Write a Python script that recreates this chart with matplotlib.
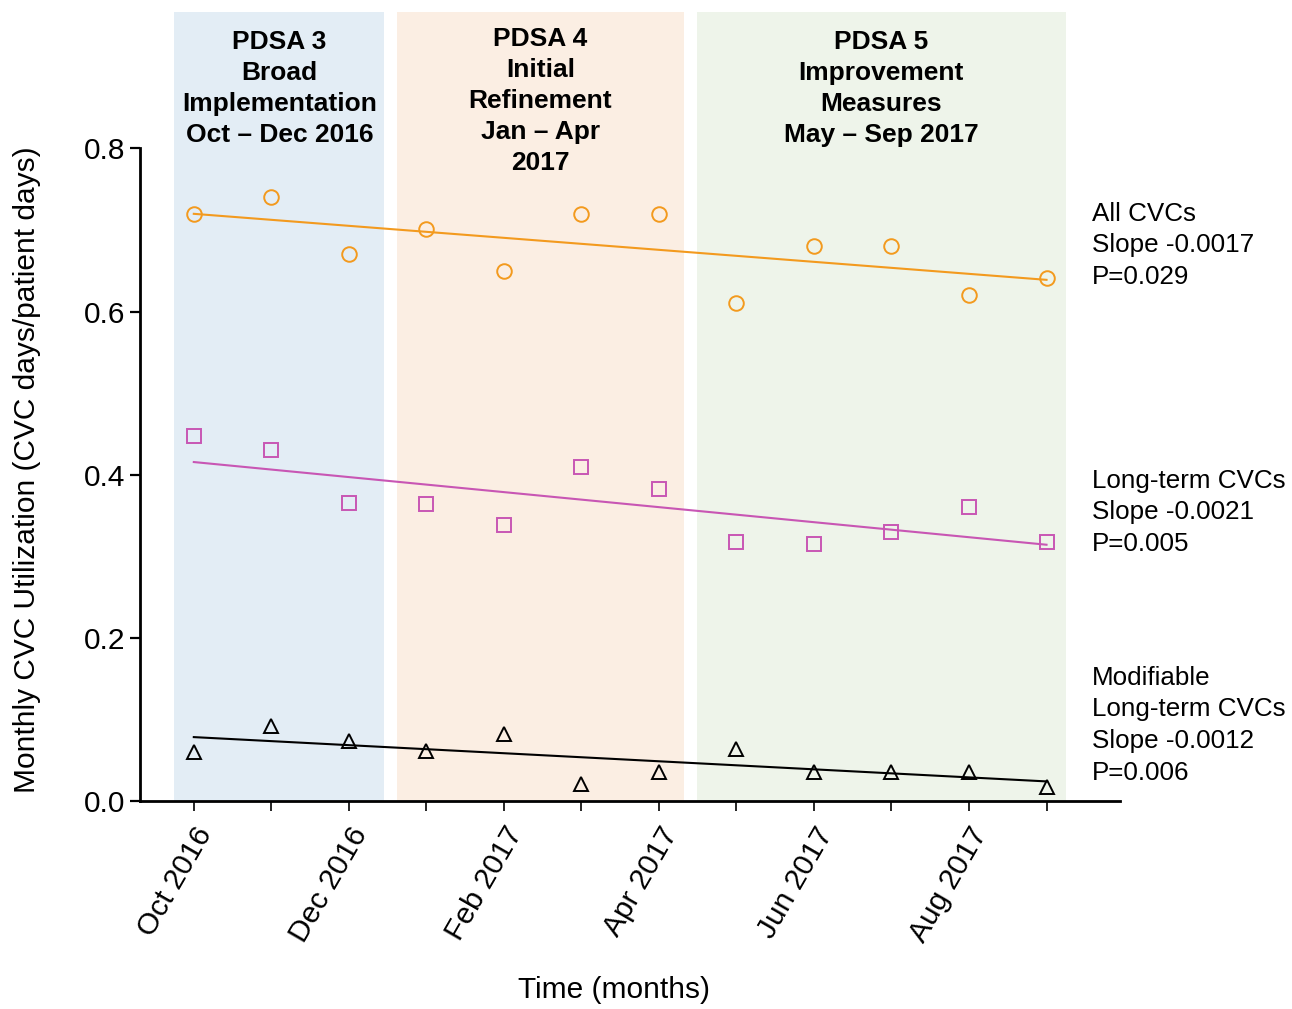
import numpy as np
import matplotlib
matplotlib.use("Agg")
import matplotlib.pyplot as plt

plt.rcParams["font.family"] = ["Liberation Sans", "DejaVu Sans"]

months = ["Oct 2016", "Nov 2016", "Dec 2016", "Jan 2017", "Feb 2017", "Mar 2017",
          "Apr 2017", "May 2017", "Jun 2017", "Jul 2017", "Aug 2017", "Sep 2017"]
all_cvcs = [0.720, 0.740, 0.670, 0.701, 0.650, 0.720, 0.720, 0.610, 0.680, 0.680, 0.620, 0.641]
long_term = [0.447, 0.430, 0.366, 0.364, 0.339, 0.409, 0.383, 0.318, 0.315, 0.330, 0.360, 0.318]
modifiable = [0.060, 0.092, 0.074, 0.062, 0.082, 0.021, 0.036, 0.064, 0.036, 0.036, 0.036, 0.017]

phase_titles = ["PDSA 3\nBroad\nImplementation\nOct \u2013 Dec 2016",
                "PDSA 4\nInitial\nRefinement\nJan \u2013 Apr\n2017",
                "PDSA 5\nImprovement\nMeasures\nMay \u2013 Sep 2017"]
phase_spans = [(-0.25, 2.46), (2.62, 6.32), (6.49, 11.25)]
phase_colors = ["#e3edf5", "#fbeee3", "#eef4ea"]
phase_title_y = [0.945, 0.949, 0.945]

series_notes = ["All CVCs\nSlope -0.0017\nP=0.029",
                "Long-term CVCs\nSlope -0.0021\nP=0.005",
                "Modifiable\nLong-term CVCs\nSlope -0.0012\nP=0.006"]

x = np.arange(len(months))

fig = plt.figure(figsize=(12.92, 10.09), dpi=100)
ax = fig.add_axes([0.108, 0.206, 0.759, 0.782])

for (x0, x1), c, title, ty in zip(phase_spans, phase_colors, phase_titles, phase_title_y):
    ax.axvspan(x0, x1, color=c, lw=0, zorder=0)
    ax.text((x0 + x1) / 2, ty, title, ha="center", va="top", fontsize=19,
            fontweight="bold", linespacing=1.37)

styles = [
    (all_cvcs, "#f39a1e", "o", 10.5),
    (long_term, "#c856b4", "s", 9.5),
    (modifiable, "black", "^", 9.5),
]
for y, c, m, ms in styles:
    y = np.asarray(y)
    ax.plot(x, y, ls="none", marker=m, ms=ms, mfc="none", mec=c, mew=1.4, zorder=3)
    k, b = np.polyfit(x, y, 1)
    ax.plot(x, k * x + b, color=c, lw=1.5, zorder=2)

note_y = [0.681, 0.354, 0.093]
for note, yy in zip(series_notes, note_y):
    ax.text(11.59, yy, note, ha="left", va="center", fontsize=18.7, linespacing=1.4,
            clip_on=False)

ax.set_xlim(-0.70, 11.95)
ax.set_ylim(0, 0.967)
ax.spines["top"].set_visible(False)
ax.spines["right"].set_visible(False)
ax.spines["left"].set_bounds(0, 0.8)
ax.spines["left"].set_linewidth(2)
ax.spines["bottom"].set_linewidth(2)

ax.set_yticks([0, 0.2, 0.4, 0.6, 0.8])
ax.set_yticklabels(["0.0", "0.2", "0.4", "0.6", "0.8"])
ax.set_xticks(x)
ax.set_xticklabels([lab if i % 2 == 0 else "" for i, lab in enumerate(months)],
                   rotation=60, ha="right", rotation_mode="anchor")
ax.tick_params(axis="y", labelsize=21.5, length=7, width=1.6)
ax.tick_params(axis="x", labelsize=21.5, length=7, width=1.2, pad=8)

ax.set_ylabel("Monthly CVC Utilization (CVC days/patient days)", fontsize=21.5)
ax.yaxis.set_label_coords(-0.100, 0.42)
ax.set_xlabel("Time (months)", fontsize=21.5)
ax.xaxis.set_label_coords(0.484, -0.222)

fig.savefig("out.png", dpi=100)
